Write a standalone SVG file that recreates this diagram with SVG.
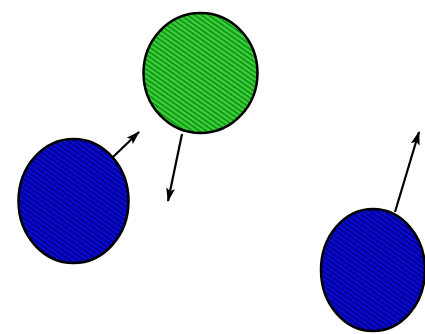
<svg xmlns="http://www.w3.org/2000/svg" width="425" height="334" viewBox="0 0 425 334">
<defs>
<pattern id="hg" width="4" height="4" patternUnits="userSpaceOnUse" patternTransform="rotate(35)">
<rect width="4" height="4" fill="#3ad23a"/>
<rect y="0" width="4" height="1.6" fill="#0f8a12"/>
</pattern>
<pattern id="hb" width="4" height="4" patternUnits="userSpaceOnUse" patternTransform="rotate(35)">
<rect width="4" height="4" fill="#0a0ad0"/>
<rect y="0" width="4" height="1.6" fill="#00008a"/>
</pattern>
<marker id="ah" markerWidth="14" markerHeight="9" refX="13" refY="4.5" orient="auto" markerUnits="userSpaceOnUse">
<path d="M0,0 L14,4.5 L0,9 L3,4.5 Z" fill="#000"/>
</marker>
<style>
.ball{stroke:#000;stroke-width:2.5}
.vec{stroke:#000;stroke-width:2.2;fill:none;marker-end:url(#ah)}
</style>
</defs>
<rect width="425" height="334" fill="#fff"/>
<g id="green-ball"><ellipse class="ball" cx="200.5" cy="73" rx="57" ry="60" fill="url(#hg)"/></g>
<g id="blue-ball-left"><ellipse class="ball" cx="73.5" cy="201" rx="55" ry="62" fill="url(#hb)"/></g>
<g id="blue-ball-right"><ellipse class="ball" cx="373" cy="270" rx="52" ry="61" fill="url(#hb)"/></g>
<g id="connectors">
<line class="vec" x1="113" y1="157" x2="139" y2="132"/>
<line class="vec" x1="182" y1="134" x2="168" y2="201"/>
<line class="vec" x1="395" y1="212" x2="419" y2="132"/>
</g>
</svg>
